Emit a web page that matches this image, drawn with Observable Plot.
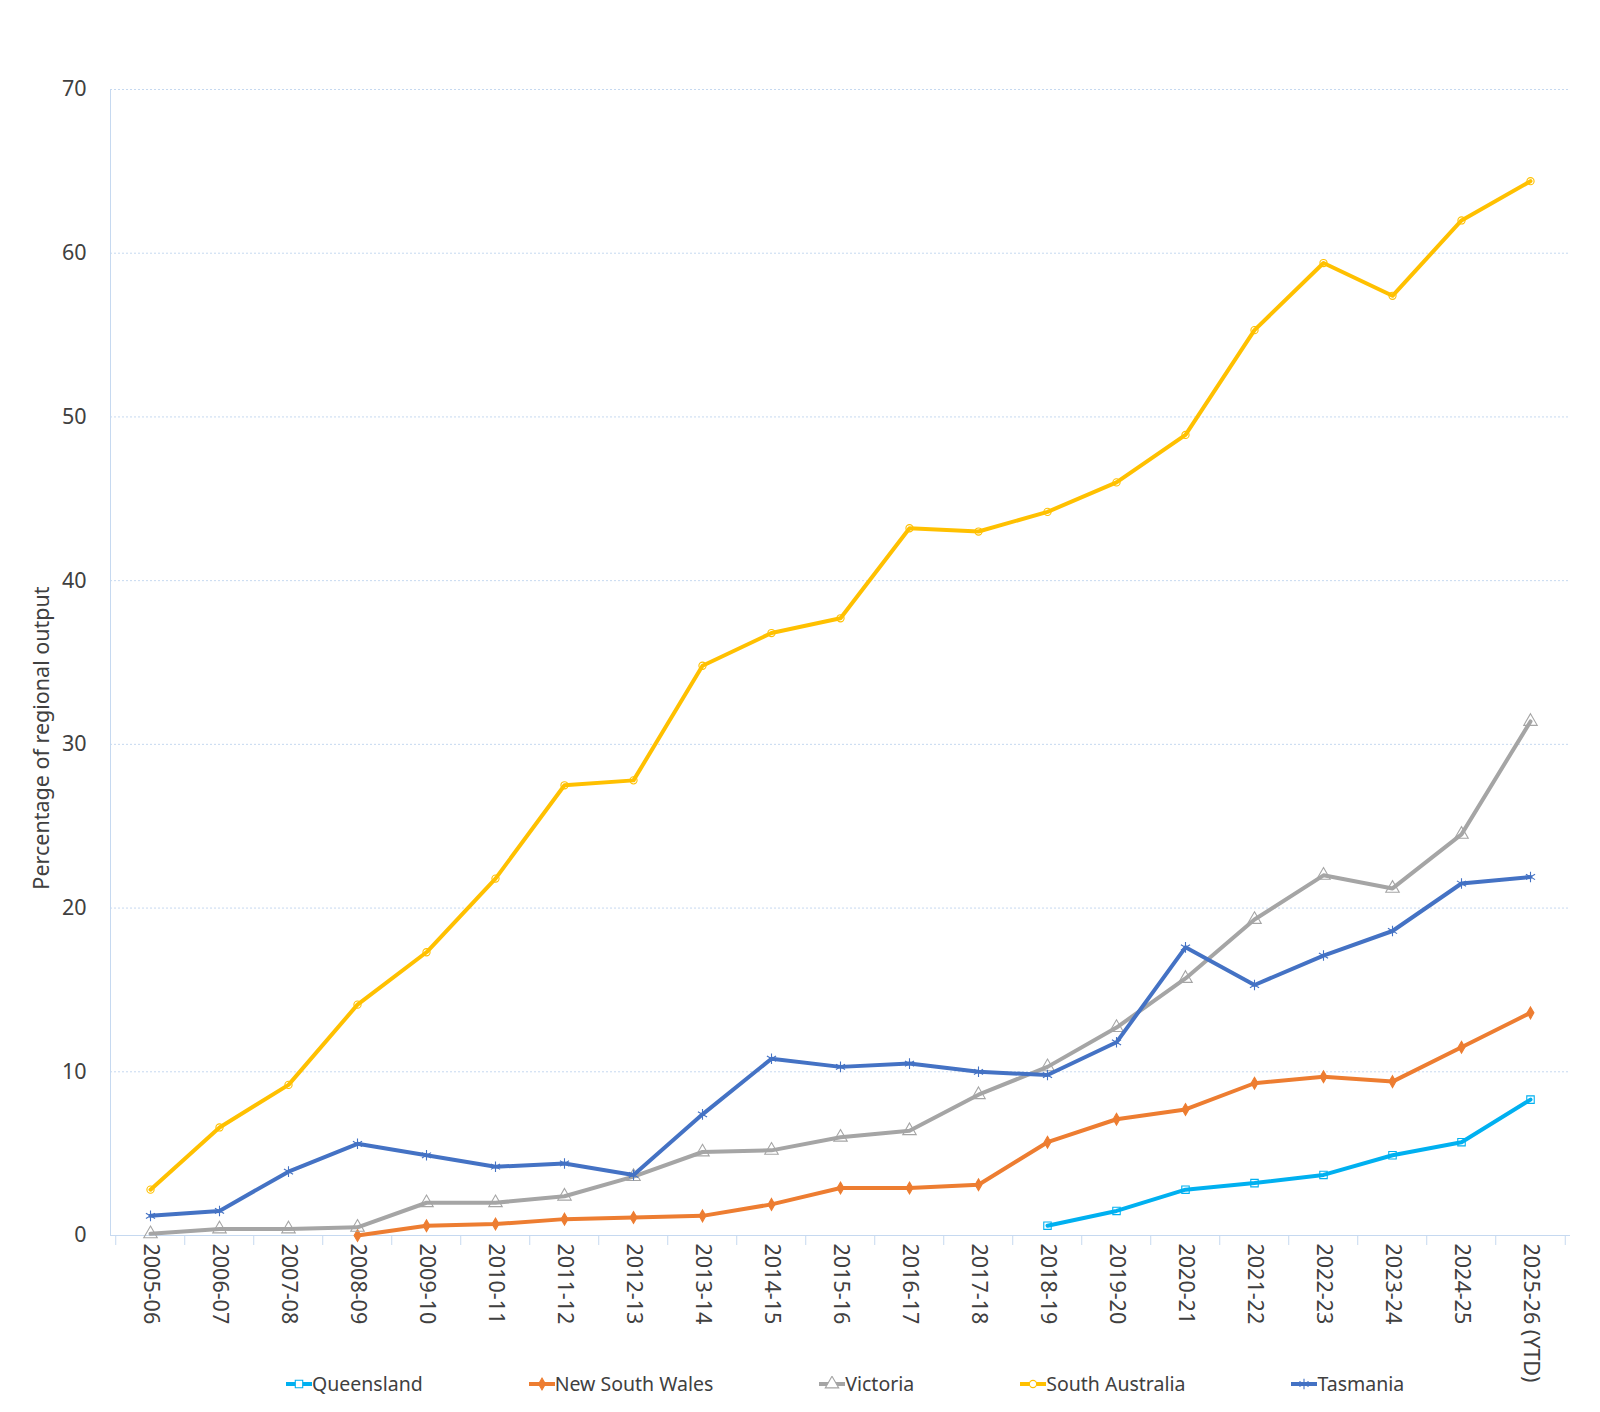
<!DOCTYPE html>
<html><head><meta charset="utf-8">
<script src="https://cdn.jsdelivr.net/npm/d3@7"></script>
<script src="https://cdn.jsdelivr.net/npm/@observablehq/plot@0.6"></script>
<style>
body{margin:0;background:#fff;font-family:"Noto Sans",sans-serif;}
#wrap{position:relative;width:1600px;height:1412px;overflow:hidden;}
#ylabel{position:absolute;left:40px;top:738px;transform:translate(-50%,-50%) rotate(-90deg);font-size:21.5px;color:#404040;white-space:nowrap;}
#legend{position:absolute;left:286px;top:1370px;display:flex;gap:106px;font-size:19.5px;color:#404040;}
.item{display:flex;align-items:center;}
.item svg{display:block;}
</style></head><body>
<div id="wrap"><div id="chart"></div><div id="ylabel">Percentage of regional output</div><div id="legend"></div></div>
<script>
const categories = ["2005-06","2006-07","2007-08","2008-09","2009-10","2010-11","2011-12","2012-13","2013-14","2014-15","2015-16","2016-17","2017-18","2018-19","2019-20","2020-21","2021-22","2022-23","2023-24","2024-25","2025-26 (YTD)"];
const queensland     = [null,null,null,null,null,null,null,null,null,null,null,null,null,0.6,1.5,2.8,3.2,3.7,4.9,5.7,8.3];
const newSouthWales  = [null,null,null,0.0,0.6,0.7,1.0,1.1,1.2,1.9,2.9,2.9,3.1,5.7,7.1,7.7,9.3,9.7,9.4,11.5,13.6];
const victoria       = [0.1,0.4,0.4,0.5,2.0,2.0,2.4,3.6,5.1,5.2,6.0,6.4,8.6,10.3,12.7,15.7,19.3,22.0,21.2,24.5,31.4];
const southAustralia = [2.8,6.6,9.2,14.1,17.3,21.8,27.5,27.8,34.8,36.8,37.7,43.2,43.0,44.2,46.0,48.9,55.3,59.4,57.4,62.0,64.4];
const tasmania       = [1.2,1.5,3.9,5.6,4.9,4.2,4.4,3.7,7.4,10.8,10.3,10.5,10.0,9.8,11.8,17.6,15.3,17.1,18.6,21.5,21.9];
const yTicks = [0,10,20,30,40,50,60,70];

const seriesNames = ["Queensland","New South Wales","Victoria","South Australia","Tasmania"];
const seriesValues = [queensland,newSouthWales,victoria,southAustralia,tasmania];
const seriesColors = ["#00b0f0","#ed7d31","#a5a5a5","#ffc000","#4472c4"];
const seriesSymbols = ["square","diamond","triangle","circle","asterisk"];
const seriesR = [4.2,3.6,5,3.6,5];
const seriesFilled = [false,true,false,false,false];

const rows = seriesNames.flatMap((s,k)=>categories.map((c,i)=>({series:s,category:c,value:seriesValues[k][i]}))).filter(d=>d.value!=null);

const W=1600,H=1412,ML=110,MR=30,MT=89,MB=177;
const step=(W-ML-MR)/categories.length;
const gridColor="#c6d9f0";

const seriesMarks = seriesNames.flatMap((s,k)=>{
  const data = rows.filter(d=>d.series===s);
  return [
    Plot.line(data,{x:"category",y:"value",stroke:seriesColors[k],strokeWidth:4,strokeLinejoin:"round"}),
    Plot.dot(data,{x:"category",y:"value",symbol:seriesSymbols[k],r:seriesR[k],
      stroke:seriesColors[k],strokeWidth:1.1,fill:seriesFilled[k]?seriesColors[k]:"none"})
  ];
});

const chart = Plot.plot({
  width:W,height:H,marginLeft:ML,marginRight:MR,marginTop:MT,marginBottom:MB,
  style:{fontFamily:"Noto Sans",fontSize:"21.5px",color:"#404040",background:"white"},
  x:{type:"point",domain:categories,padding:0.5,label:null},
  y:{domain:[0,70],label:null},
  marks:[
    Plot.gridY(yTicks.filter(t=>t>0),{stroke:gridColor,strokeOpacity:1,strokeDasharray:"2,2",strokeWidth:1}),
    Plot.frame({anchor:"left",stroke:gridColor,strokeOpacity:1}),
    Plot.ruleY([0],{stroke:gridColor,strokeWidth:1.2}),
    Plot.axisY(yTicks,{tickSize:0,tickPadding:24,fontSize:21.5,fill:"#404040",label:null}),
    Plot.axisX({tickSize:0,tickPadding:8,tickRotate:90,fontSize:21.5,fill:"#404040",label:null}),
    Plot.axisX({tickSize:10,dx:-step/2,tickFormat:()=>"",stroke:gridColor,label:null}),
    Plot.axisX([categories[categories.length-1]],{tickSize:10,dx:step/2,tickFormat:()=>"",stroke:gridColor,label:null}),
    ...seriesMarks
  ]
});
document.getElementById("chart").appendChild(chart);

// legend
const legend=document.getElementById("legend");
const symMap={square:d3.symbolSquare,diamond:d3.symbolDiamond,triangle:d3.symbolTriangle,circle:d3.symbolCircle,asterisk:d3.symbolAsterisk};
seriesNames.forEach((s,k)=>{
  const item=document.createElement("div");item.className="item";
  const svg=d3.create("svg").attr("width",26).attr("height",16);
  svg.append("line").attr("x1",0).attr("x2",26).attr("y1",8).attr("y2",8).attr("stroke",seriesColors[k]).attr("stroke-width",4);
  svg.append("path").attr("transform","translate(13,8)").attr("d",d3.symbol(symMap[seriesSymbols[k]],Math.PI*seriesR[k]*seriesR[k])())
    .attr("stroke",seriesColors[k]).attr("stroke-width",1.1).attr("fill",seriesFilled[k]?seriesColors[k]:"white");
  item.appendChild(svg.node());
  const t=document.createElement("span");t.textContent=s;item.appendChild(t);
  legend.appendChild(item);
});
</script>
</body></html>
